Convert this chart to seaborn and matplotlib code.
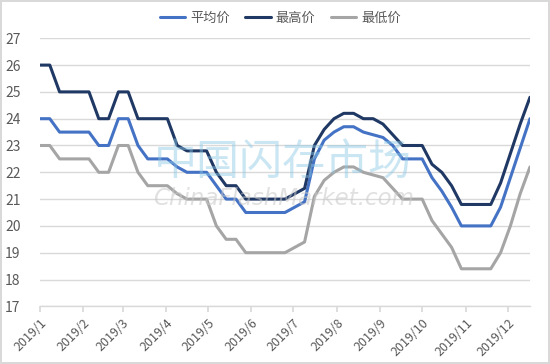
import pandas as pd
import seaborn as sns
import matplotlib.pyplot as plt

# weekly prices, 2019-01-01 .. 2019-12-17
weeks = pd.date_range('2019-01-01', periods=51, freq='7D')

avg_price = [24, 24, 23.5, 23.5, 23.5, 23.5, 23, 23, 24, 24,
             23, 22.5, 22.5, 22.5, 22.2, 22, 22, 22, 21.5, 21,
             21, 20.5, 20.5, 20.5, 20.5, 20.5, 20.7, 20.9, 22.5, 23.2,
             23.5, 23.7, 23.7, 23.5, 23.4, 23.3, 23, 22.5, 22.5, 22.5,
             21.8, 21.3, 20.7, 20, 20, 20, 20, 20.7, 21.8, 22.9,
             24]
high_price = [26, 26, 25, 25, 25, 25, 24, 24, 25, 25,
              24, 24, 24, 24, 23, 22.8, 22.8, 22.8, 22, 21.5,
              21.5, 21, 21, 21, 21, 21, 21.2, 21.4, 23, 23.6,
              24, 24.2, 24.2, 24, 24, 23.8, 23.4, 23, 23, 23,
              22.3, 22, 21.5, 20.8, 20.8, 20.8, 20.8, 21.6, 22.7, 23.8,
              24.8]
low_price = [23, 23, 22.5, 22.5, 22.5, 22.5, 22, 22, 23, 23,
             22, 21.5, 21.5, 21.5, 21.2, 21, 21, 21, 20, 19.5,
             19.5, 19, 19, 19, 19, 19, 19.2, 19.4, 21.1, 21.7,
             22, 22.2, 22.2, 22, 21.9, 21.8, 21.4, 21, 21, 21,
             20.2, 19.7, 19.2, 18.4, 18.4, 18.4, 18.4, 19, 20, 21.2,
             22.2]

series_names = ['平均价', '最高价', '最低价']
colors = ['#4472C4', '#1F3864', '#A5A5A5']
month_ticks = pd.date_range('2019-01-01', periods=12, freq='MS')
month_labels = ['2019/%d' % m for m in range(1, 13)]

df = pd.DataFrame({'date': weeks, '平均价': avg_price, '最高价': high_price, '最低价': low_price})
long_df = df.melt(id_vars='date', var_name='series', value_name='price')

sns.set_theme(style='white')
plt.rcParams['font.family'] = ['Noto Sans CJK SC', 'DejaVu Sans']

fig = plt.figure(figsize=(5.5, 3.64), dpi=100)
fig.patch.set_edgecolor('#D9D9D9')
fig.patch.set_linewidth(1.5)
ax = fig.add_axes([0.0727, 0.1585, 0.8909, 0.7363])

sns.lineplot(data=long_df, x='date', y='price', hue='series', hue_order=series_names,
             palette=colors, linewidth=2.2, ax=ax, legend=True)

ax.set_ylim(17, 27)
ax.set_yticks(range(17, 28))
ax.set_xlim(weeks[0], weeks[-1])
ax.set_xticks(month_ticks)
ax.set_xticklabels(month_labels, rotation=45, ha='right', rotation_mode='anchor')
ax.set_xlabel('')
ax.set_ylabel('')
ax.grid(axis='y', color='#D9D9D9', linewidth=1)
ax.set_axisbelow(True)
for side in ['top', 'right', 'left']:
    ax.spines[side].set_visible(False)
ax.spines['bottom'].set_color('#D9D9D9')
ax.spines['bottom'].set_linewidth(1)
ax.tick_params(axis='x', bottom=True, length=4, color='#D9D9D9', labelsize=9, labelcolor='#595959', pad=3)
ax.tick_params(axis='y', left=False, labelsize=10, labelcolor='#595959', pad=8)

handles, labels = ax.get_legend_handles_labels()
ax.legend(handles, labels, loc='center', bbox_to_anchor=(0.51, 0.95), bbox_transform=fig.transFigure,
          ncol=3, frameon=False, fontsize=9.5, handlelength=1.9, handletextpad=0.4,
          columnspacing=1.2, labelcolor='#595959')

# watermark
fig.text(0.515, 0.552, '中国闪存市场', fontsize=31, color='#8CC8E6', alpha=0.45,
         ha='center', va='center', style='italic', zorder=10)
fig.text(0.515, 0.455, 'ChinaFlashMarket.com', fontsize=16.5, color='#C8C8C8', alpha=0.55,
         ha='center', va='center', style='italic', family='DejaVu Sans', zorder=10)

fig.savefig('out.png', dpi=100, edgecolor=fig.get_edgecolor())
